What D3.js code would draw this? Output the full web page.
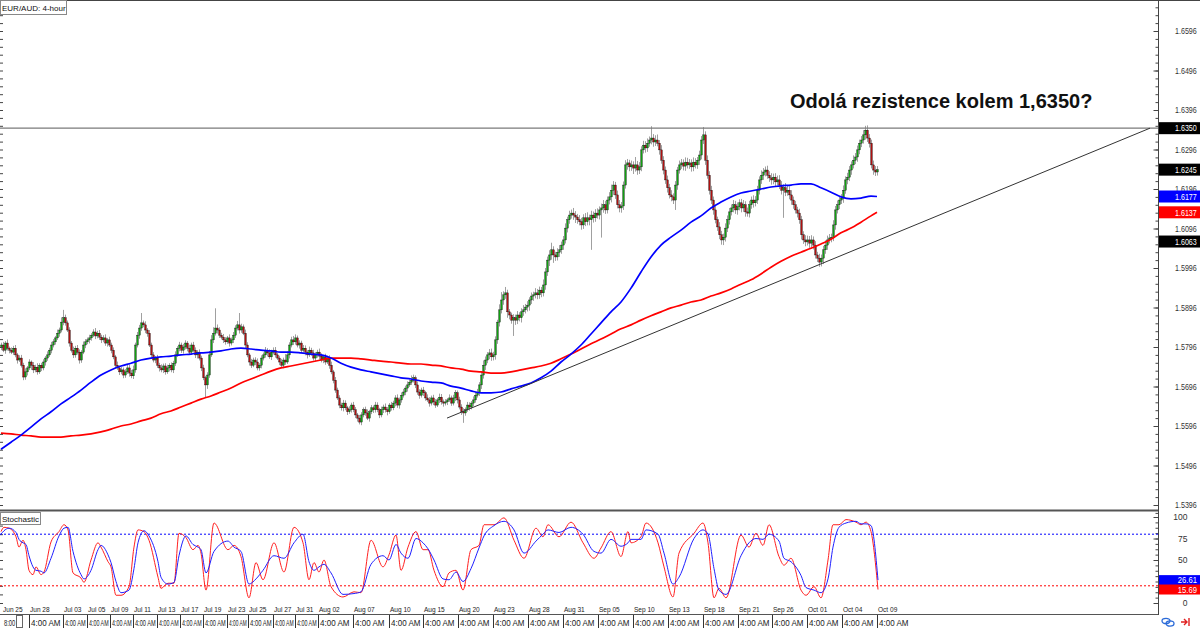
<!DOCTYPE html>
<html><head><meta charset="utf-8">
<script src="https://cdn.jsdelivr.net/npm/d3@7"></script>
<style>body{margin:0;background:#fff}svg{display:block}text{font-family:"Liberation Sans",Arial,sans-serif}</style>
</head><body><svg id="c" width="1200" height="628"></svg>
<script>
// ---- DATA (4-hour EUR/AUD candles) ----
const firstOpen = 1.5795;
const closes = [
1.5801,1.5788,1.5806,1.5793,1.5788,1.5783,1.5793,1.5776,1.5763,1.5768,
1.5750,1.5720,1.5733,1.5743,1.5758,1.5750,1.5738,1.5745,1.5733,1.5750,
1.5743,1.5758,1.5768,1.5776,1.5788,1.5801,1.5809,1.5819,1.5831,1.5839,
1.5859,1.5870,1.5857,1.5839,1.5806,1.5788,1.5776,1.5793,1.5783,1.5763,
1.5783,1.5801,1.5809,1.5814,1.5819,1.5826,1.5834,1.5824,1.5831,1.5821,
1.5814,1.5819,1.5806,1.5814,1.5801,1.5788,1.5771,1.5750,1.5743,1.5733,
1.5738,1.5725,1.5733,1.5743,1.5730,1.5723,1.5738,1.5801,1.5826,1.5844,
1.5857,1.5852,1.5839,1.5831,1.5801,1.5776,1.5763,1.5768,1.5750,1.5743,
1.5738,1.5748,1.5733,1.5743,1.5750,1.5738,1.5755,1.5776,1.5793,1.5801,
1.5788,1.5796,1.5806,1.5793,1.5783,1.5801,1.5788,1.5776,1.5783,1.5768,
1.5743,1.5718,1.5700,1.5725,1.5776,1.5814,1.5831,1.5844,1.5839,1.5826,
1.5821,1.5814,1.5809,1.5819,1.5806,1.5814,1.5826,1.5844,1.5852,1.5839,
1.5847,1.5831,1.5801,1.5776,1.5758,1.5750,1.5763,1.5758,1.5743,1.5750,
1.5768,1.5776,1.5788,1.5781,1.5771,1.5783,1.5788,1.5776,1.5768,1.5758,
1.5750,1.5763,1.5758,1.5776,1.5801,1.5814,1.5809,1.5819,1.5801,1.5806,
1.5788,1.5793,1.5783,1.5776,1.5788,1.5781,1.5768,1.5776,1.5783,1.5773,
1.5763,1.5771,1.5758,1.5768,1.5750,1.5733,1.5712,1.5687,1.5667,1.5649,
1.5642,1.5654,1.5642,1.5632,1.5637,1.5649,1.5637,1.5624,1.5616,1.5606,
1.5624,1.5637,1.5629,1.5616,1.5632,1.5642,1.5637,1.5649,1.5637,1.5624,
1.5637,1.5644,1.5637,1.5632,1.5649,1.5642,1.5654,1.5667,1.5649,1.5662,
1.5674,1.5682,1.5692,1.5700,1.5707,1.5712,1.5718,1.5700,1.5682,1.5674,
1.5687,1.5680,1.5667,1.5662,1.5654,1.5667,1.5657,1.5649,1.5662,1.5669,
1.5657,1.5654,1.5657,1.5662,1.5667,1.5654,1.5667,1.5680,1.5662,1.5644,
1.5632,1.5629,1.5637,1.5649,1.5644,1.5654,1.5662,1.5674,1.5680,1.5700,
1.5725,1.5750,1.5763,1.5776,1.5781,1.5771,1.5776,1.5814,1.5859,1.5890,
1.5915,1.5928,1.5933,1.5885,1.5877,1.5864,1.5870,1.5864,1.5877,1.5870,
1.5885,1.5890,1.5897,1.5902,1.5915,1.5925,1.5928,1.5933,1.5928,1.5940,
1.5933,1.5953,1.5986,1.6016,1.6029,1.6042,1.6029,1.6024,1.6036,1.6042,
1.6054,1.6067,1.6097,1.6118,1.6130,1.6135,1.6130,1.6125,1.6118,1.6113,
1.6105,1.6123,1.6113,1.6123,1.6118,1.6130,1.6123,1.6135,1.6130,1.6143,
1.6148,1.6156,1.6143,1.6168,1.6176,1.6193,1.6206,1.6181,1.6156,1.6148,
1.6153,1.6206,1.6257,1.6262,1.6252,1.6257,1.6249,1.6257,1.6244,1.6252,
1.6295,1.6307,1.6300,1.6312,1.6320,1.6325,1.6315,1.6320,1.6312,1.6295,
1.6269,1.6244,1.6219,1.6199,1.6181,1.6176,1.6168,1.6206,1.6244,1.6257,
1.6262,1.6254,1.6264,1.6257,1.6262,1.6252,1.6264,1.6257,1.6269,1.6282,
1.6320,1.6333,1.6269,1.6231,1.6193,1.6168,1.6143,1.6118,1.6100,1.6080,
1.6067,1.6074,1.6097,1.6118,1.6138,1.6148,1.6156,1.6143,1.6151,1.6161,
1.6148,1.6156,1.6138,1.6135,1.6156,1.6168,1.6161,1.6168,1.6193,1.6219,
1.6231,1.6239,1.6244,1.6231,1.6224,1.6219,1.6226,1.6214,1.6219,1.6206,
1.6193,1.6199,1.6188,1.6193,1.6181,1.6168,1.6156,1.6143,1.6135,1.6118,
1.6080,1.6067,1.6062,1.6067,1.6059,1.6067,1.6054,1.6029,1.6021,1.6011,
1.6021,1.6042,1.6054,1.6067,1.6072,1.6074,1.6105,1.6143,1.6156,1.6168,
1.6173,1.6193,1.6219,1.6226,1.6244,1.6257,1.6269,1.6277,1.6295,1.6312,
1.6320,1.6333,1.6345,1.6325,1.6312,1.6257,1.6244,1.6239,1.6245];
// wick lengths above / below the body, in pips
const upWick = [
6,8,5,9,4,7,6,8,5,7, 8,6,9,5,7,4,8,6,10,5, 6,7,5,9,6,8,7,5,9,6, 12,20,8,6,7,5,9,6,8,7,
5,9,7,6,8,5,7,10,6,8, 6,7,9,5,8,6,7,5,9,6, 8,6,7,10,9,8,11,6,8,8, 25,6,9,5,8,6,7,5,8,6,
9,6,7,8,5,7,6,9,5,8, 6,8,7,5,9,6,8,7,5,7, 6,8,5,7,10,12,15,50,9,7, 6,8,7,5,9,6,8,7,10,30,
8,6,9,7,5,8,6,7,9,5, 7,6,8,5,9,6,7,8,5,6, 8,6,15,9,7,8,10,9,6,7, 6,8,7,5,9,6,8,7,6,9,
7,5,8,6,7,9,5,8,6,7, 6,8,7,5,9,6,8,7,5,8, 7,6,8,9,5,7,6,8,7,5, 8,6,9,7,5,8,6,7,9,6,
7,8,6,9,7,12,8,6,9,7, 6,8,5,9,7,6,8,7,5,9, 8,6,7,5,9,6,8,7,6,8, 7,9,6,8,7,5,9,8,10,7,
8,12,9,7,10,11,8,9,6,14, 20,9,15,8,7,6,9,8,10,7, 9,12,8,10,7,9,8,12,10,9, 8,14,10,9,12,18,9,8,10,12,
9,10,12,8,11,9,13,10,8,12, 10,9,12,14,8,11,9,10,12,9, 11,12,10,9,12,14,10,8,11,12, 10,9,12,10,8,11,9,20,10,12,
9,11,10,12,9,30,10,12,14,8, 12,10,9,11,10,12,9,10,8,11, 10,9,12,11,10,9,12,10,8,11, 10,20,9,12,10,11,9,10,8,12,
10,9,12,11,10,9,12,10,11,9, 10,12,9,11,10,9,12,10,11,9, 12,10,9,11,10,12,9,10,11,12, 10,9,12,11,10,12,9,10,8,11,
10,9,12,11,10,12,9,10,8,11, 9,10,12,11,10,9,12,10,11,9, 10,12,9,11,10,9,12,10,11,9, 10,12,11,12,10,9,11,10,9];
const downWick = [
7,5,9,6,8,5,7,6,9,5, 6,8,7,9,5,12,8,6,7,5, 8,6,9,7,5,8,6,7,5,9, 6,8,7,5,9,6,8,7,6,9,
7,5,8,6,9,7,5,8,6,7, 8,6,7,9,5,8,6,7,5,8, 6,8,7,5,9,6,8,7,6,9, 7,6,8,9,5,7,6,8,7,9,
6,8,7,5,9,6,8,7,5,8, 7,9,6,8,5,7,6,8,9,6, 8,6,33,10,7,5,8,6,9,7, 6,8,7,5,9,6,8,7,6,9,
7,5,8,6,9,7,5,8,6,7, 8,6,7,9,5,8,6,7,5,8, 6,8,7,5,9,6,8,7,6,9, 7,6,8,9,5,7,6,8,7,9,
6,8,7,5,9,6,8,7,5,8, 7,9,6,8,5,7,6,8,9,6, 8,6,7,5,9,6,8,7,6,8, 6,8,7,9,5,7,6,8,7,9,
7,6,8,9,5,7,6,8,7,9, 6,8,7,5,9,6,8,7,5,8, 7,9,6,8,5,7,6,8,9,6, 8,25,7,5,9,6,8,7,6,8,
10,9,12,8,11,10,9,12,10,11, 9,12,10,15,11,9,40,12,10,9, 12,10,9,11,14,10,12,9,11,10, 11,9,12,10,15,12,20,10,9,12,
10,12,9,11,10,9,12,15,10,9, 12,10,11,9,14,76,12,10,9,11, 70,12,10,9,11,14,12,10,9,11, 12,10,9,12,11,10,15,9,12,10,
11,9,12,10,9,11,12,10,8,12, 9,11,10,12,9,11,10,25,12,9, 10,11,12,9,10,12,11,9,10,12, 11,10,12,9,11,10,12,9,10,11,
12,13,11,10,12,9,11,10,12,9, 11,10,12,9,11,10,12,9,10,11, 10,12,11,9,10,12,11,11,9,10, 11,70,10,9,11,12,10,9,11,10,
12,10,11,9,12,10,11,9,10,12, 11,15,10,12,9,11,10,12,9,11, 10,12,9,11,10,12,9,10,12,11, 10,9,12,10,11,9,12,10,9];
// moving averages, one value every 5 bars (plus the last bar)
const maBlue = [1.5537,1.5555,1.5573,1.5593,1.5614,1.5632,1.5652,1.5669,1.5687,1.5707,
1.5725,1.5738,1.5748,1.5755,1.5763,1.5768,1.5771,1.5773,1.5776,1.5778,
1.5781,1.5783,1.5786,1.5791,1.5793,1.5791,1.5788,1.5786,1.5783,1.5783,
1.5781,1.5778,1.5776,1.5768,1.5755,1.5745,1.5738,1.5733,1.5728,1.5723,
1.5718,1.5715,1.5710,1.5707,1.5705,1.5697,1.5692,1.5685,1.5680,1.5680,
1.5682,1.5690,1.5697,1.5705,1.5718,1.5735,1.5758,1.5778,1.5801,1.5829,
1.5857,1.5885,1.5910,1.5945,1.5986,1.6024,1.6054,1.6074,1.6092,1.6112,
1.6128,1.6148,1.6163,1.6176,1.6186,1.6191,1.6196,1.6201,1.6204,1.6206,
1.6209,1.6209,1.6199,1.6188,1.6176,1.6171,1.6173,1.6178,1.6177];
const maRed = [1.5578,1.5576,1.5573,1.5571,1.5568,1.5568,1.5568,1.5571,1.5573,1.5576,
1.5581,1.5588,1.5596,1.5601,1.5609,1.5616,1.5627,1.5634,1.5644,1.5654,
1.5664,1.5672,1.5682,1.5692,1.5705,1.5715,1.5725,1.5735,1.5743,1.5748,
1.5753,1.5758,1.5763,1.5768,1.5768,1.5768,1.5766,1.5763,1.5760,1.5758,
1.5755,1.5753,1.5753,1.5750,1.5748,1.5743,1.5740,1.5735,1.5733,1.5730,
1.5730,1.5733,1.5738,1.5743,1.5748,1.5755,1.5766,1.5778,1.5791,1.5804,
1.5816,1.5829,1.5842,1.5852,1.5864,1.5875,1.5885,1.5895,1.5902,1.5910,
1.5915,1.5925,1.5933,1.5943,1.5955,1.5966,1.5981,1.5998,1.6013,1.6026,
1.6036,1.6046,1.6057,1.6069,1.6085,1.6097,1.6112,1.6128,1.6137];
// stochastic (bar index, %K main = red, %D signal = blue)
const stochBars = [0,1.5,4,7.5,9,11,12.5,14,16,17.5,20,21.5,25,29,31.5,33.5,36,40,41.5,45,
48.5,50,53.5,55,57.5,60,64,66.5,68.5,71.5,74,78.5,80,83.5,86.5,89,92.5,96,98.5,100,
102.5,106.5,113.5,116.5,120,124,127.5,131,136.5,141.5,146.5,151,154,156.5,159,161.5,165,171,176.5,180,
185,191,194,197.5,200,203.5,207.5,211,213.5,216.5,221,224,227.5,231,235,239,241.5,246.5,251.5,256.5,
261.5,267.5,271,273.5,279,285,291,296.5,300,305,310,313.5,315,320,322.5,328.5,331.5,336,339,346.5,
351,353.5,356.5,359,362.5,370,374,377.5,381,384,389,391.5,395,400,402.5,406.5,410,413.5,416,419,
422.5,427.5,430,432.5,435,438.5];
const stochK = [83,88,87,77,65,73,62,38,33,42,33,36,71,83,91,85,35,29,24,50,
70,65,48,42,9,9,19,65,85,83,73,30,17,23,23,81,76,62,67,58,
15,93,62,67,54,6,47,27,70,36,88,70,27,47,36,50,19,7,13,12,
73,42,56,79,38,65,83,62,62,38,19,35,38,15,62,67,91,91,99,73,
52,87,77,91,77,94,70,52,64,83,54,83,70,77,93,70,42,7,58,81,
93,70,6,17,6,79,65,81,67,91,54,44,52,15,9,19,6,50,91,91,
97,94,91,94,83,15.69];
const stochD = [80,84,87,82,74,70,68,55,42,38,37,35,52,78,87,88,60,33,28,38,
62,67,56,47,25,12,15,40,70,84,78,48,30,22,24,55,78,68,65,62,
35,60,72,65,60,22,28,38,55,52,70,80,48,38,42,45,35,10,11,13,
45,55,50,68,58,52,75,70,63,50,28,27,36,25,40,64,78,90,95,85,
58,72,80,85,82,88,80,60,58,74,66,70,74,74,85,80,58,22,30,75,
85,80,40,15,10,55,70,75,74,80,72,52,48,32,18,15,12,28,65,88,
93,95,92,92,90,26.61];
const priceLabels = [1.5396,1.5496,1.5596,1.5696,1.5796,1.5896,1.5996,1.6096,1.6196,1.6296,1.6396,1.6496,1.6596];
const stochLabels = [0,50,75,100];
const stochLevels = {upper:80, lower:20};
const resistance = 1.6350;
const trendStart = {bar:223, price:1.5616};
const trendEnd = {bar:574.5, price:1.6350};
const lastValues = [
  {v:1.6350, c:"#000"}, {v:1.6245, c:"#000"}, {v:1.6177, c:"#0000ff"},
  {v:1.6137, c:"#ff0000"}, {v:1.6063, c:"#000"}];
const stochLast = [{v:26.61, c:"#0000ff"}, {v:15.69, c:"#ff0000"}];
const dateLabels = ["Jun 25","Jun 28","Jul 03","Jul 05","Jul 09","Jul 11","Jul 13","Jul 17","Jul 19","Jul 23",
"Jul 25","Jul 27","Jul 31","Aug 02","Aug 07","Aug 10","Aug 15","Aug 20","Aug 23","Aug 28",
"Aug 31","Sep 05","Sep 10","Sep 13","Sep 18","Sep 21","Sep 26","Oct 01","Oct 04","Oct 09"];
const dateBars = [0.5,14,31,43,54.5,66,78,89.5,101,113,123.5,136,147,158.5,176,194,211,228.5,246,263.5,
281,298.5,316,333.5,351,368.5,385.5,403,420.5,438];
const timeLabels = ["8:00"].concat(d3.range(29).map(()=>"4:00 AM"));
const title = "EUR/AUD: 4-hour";
const note = "Odolá rezistence kolem 1,6350?";

// ---- DRAW ----
const svg = d3.select("#c");
const AX = 1158.5;
const x = d3.scaleLinear().domain([0, 438]).range([1, 877]);
const y = d3.scaleLinear().domain([1.5396, 1.6596]).range([505, 31]);
const ys = d3.scaleLinear().domain([0, 100]).range([603, 517]);

const main = svg.append("g");
main.append("defs").append("clipPath").attr("id","cp").append("rect").attr("x",0).attr("y",0).attr("width",AX).attr("height",510);

// frame lines
svg.append("line").attr("x1",0).attr("x2",1200).attr("y1",0.5).attr("y2",0.5).attr("stroke","#444");
svg.append("line").attr("x1",0).attr("x2",AX).attr("y1",510.5).attr("y2",510.5).attr("stroke","#555").attr("stroke-width",2);
svg.append("line").attr("x1",0).attr("x2",AX).attr("y1",614.5).attr("y2",614.5).attr("stroke","#555");
svg.append("line").attr("x1",AX).attr("x2",AX).attr("y1",0).attr("y2",615).attr("stroke","#444");

// horizontally squeezed text (narrow UI font look)
const squeezed = (parent, tx, ty, str, size, sx, fill, anchor) =>
  parent.append("text").attr("transform",`translate(${tx},${ty}) scale(${sx},1)`)
    .attr("font-size",size).attr("fill",fill).attr("text-anchor",anchor||"start").text(str);

// right price axis
const minor = d3.range(1.5376, 1.6676, 0.002);
svg.append("g").attr("transform",`translate(${AX},0)`)
  .call(d3.axisRight(y).tickValues(minor).tickSize(-3).tickFormat(""))
  .call(g=>{g.select(".domain").remove(); g.selectAll("line").attr("stroke","#444");});
svg.append("g").attr("transform",`translate(${AX},0)`)
  .call(d3.axisRight(y).tickValues(priceLabels).tickSize(-5).tickFormat(""))
  .call(g=>{g.select(".domain").remove(); g.selectAll("line").attr("stroke","#444");});
const pl = svg.append("g");
priceLabels.forEach(v=> squeezed(pl, 1175, y(v)+3, v.toFixed(4), 8.5, 0.84, "#333"));
// left edge ticks
svg.append("g")
  .call(d3.axisRight(y).tickValues(minor).tickSize(3).tickFormat(""))
  .call(g=>{g.select(".domain").remove(); g.selectAll("line").attr("stroke","#444");});
svg.append("g")
  .call(d3.axisRight(ys).tickValues(d3.range(0,101,10)).tickSize(3).tickFormat(""))
  .call(g=>{g.select(".domain").remove(); g.selectAll("line").attr("stroke","#444");});

// stochastic axis
svg.append("g").attr("transform",`translate(${AX},0)`)
  .call(d3.axisRight(ys).tickValues(d3.range(0,101,6.25)).tickSize(-3).tickFormat(""))
  .call(g=>{g.select(".domain").remove(); g.selectAll("line").attr("stroke","#444");});
svg.append("g").attr("transform",`translate(${AX},0)`)
  .call(d3.axisRight(ys).tickValues(stochLabels).tickSize(-5).tickPadding(29).tickFormat(d3.format("d")))
  .call(g=>{g.select(".domain").remove(); g.selectAll("line").attr("stroke","#444");
    g.selectAll("text").attr("font-size",8.5).attr("fill","#333").attr("text-anchor","end");});

// candles
const candles = closes.map((c,i)=>{
  const o = i ? closes[i-1] : firstOpen;
  return {i, o, c, h: Math.max(o,c) + (upWick[i]||8)/1e4, l: Math.min(o,c) - (downWick[i]||8)/1e4};
});
const cg = main.append("g").attr("clip-path","url(#cp)");
cg.selectAll("line.w").data(candles).join("line").attr("class","w")
  .attr("x1",d=>x(d.i)+0.5).attr("x2",d=>x(d.i)+0.5)
  .attr("y1",d=>y(d.h)).attr("y2",d=>y(d.l))
  .attr("stroke","#a0a0a0").attr("stroke-width",1);
cg.selectAll("rect.b").data(candles).join("rect").attr("class","b")
  .attr("x",d=>x(d.i)-0.3).attr("width",1.6)
  .attr("y",d=>y(Math.max(d.o,d.c))).attr("height",d=>Math.max(1,Math.abs(y(d.o)-y(d.c))))
  .attr("fill",d=>d.c>=d.o?"#10a010":"#b01010")
  .attr("stroke","#000").attr("stroke-width",0.35);

// moving averages
const maIndex = d3.range(0,436,5).concat([438]);
const maLine = d3.line().x((d,k)=>x(maIndex[k])).y(d=>y(d)).curve(d3.curveMonotoneX);
cg.append("path").attr("d",maLine(maRed)).attr("fill","none").attr("stroke","#ff0000").attr("stroke-width",1.7);
cg.append("path").attr("d",maLine(maBlue)).attr("fill","none").attr("stroke","#0000ff").attr("stroke-width",1.7);

// resistance + trendline
cg.append("line").attr("x1",0).attr("x2",AX).attr("y1",y(resistance)).attr("y2",y(resistance))
  .attr("stroke","#7a7a7a").attr("stroke-width",1.3);
cg.append("line").attr("x1",x(trendStart.bar)).attr("y1",y(trendStart.price))
  .attr("x2",x(trendEnd.bar)).attr("y2",y(trendEnd.price)).attr("stroke","#333").attr("stroke-width",1);

// last-value boxes (price)
const lv = svg.append("g");
lastValues.forEach(b=>{
  lv.append("rect").attr("x",AX+0.5).attr("y",y(b.v)-6).attr("width",1200-AX).attr("height",12).attr("fill",b.c);
  squeezed(lv, 1175, y(b.v)+3.2, b.v.toFixed(4), 8.5, 0.84, "#fff");
});

// stochastic
svg.append("line").attr("x1",0).attr("x2",AX).attr("y1",ys(stochLevels.upper)).attr("y2",ys(stochLevels.upper))
  .attr("stroke","#0000ff").attr("stroke-dasharray","2,2");
svg.append("line").attr("x1",0).attr("x2",AX).attr("y1",ys(stochLevels.lower)).attr("y2",ys(stochLevels.lower))
  .attr("stroke","#ff0000").attr("stroke-dasharray","2,2");
const stLine = arr => d3.line().x((d,k)=>x(stochBars[k])).y(d=>ys(d)).curve(d3.curveMonotoneX)(arr);
svg.append("path").attr("d",stLine(stochK)).attr("fill","none").attr("stroke","#ff2020").attr("stroke-width",1);
svg.append("path").attr("d",stLine(stochD)).attr("fill","none").attr("stroke","#2020ff").attr("stroke-width",1);
const sl = svg.append("g");
stochLast.forEach(b=>{
  sl.append("rect").attr("x",AX+0.5).attr("y",ys(b.v)-5).attr("width",1200-AX).attr("height",10).attr("fill",b.c);
  squeezed(sl, 1197, ys(b.v)+3.2, b.v.toFixed(2), 8.5, 0.9, "#fff", "end");
});

// time axis labels
const dg = svg.append("g");
dateLabels.forEach((t,k)=> squeezed(dg, x(dateBars[k])+1, 612, t, 8, 0.82, "#222"));
const tg = svg.append("g");
timeLabels.forEach((t,k)=>{
  const xx = Math.round(x(dateBars[k]));
  const next = k < dateBars.length-1 ? Math.round(x(dateBars[k+1])) : xx + 36;
  const room = Math.min(30, next - xx - 3);
  if(k>0) tg.append("line").attr("x1",xx+0.5).attr("x2",xx+0.5).attr("y1",615).attr("y2",628).attr("stroke","#333");
  const natural = (k===0 ? 17.5 : 31.7);
  squeezed(tg, xx+2, 626, t, 8.5, Math.min(1, (k===0 ? 12 : room)/natural), "#222");
});
tg.append("rect").attr("x",16.5).attr("y",615.5).attr("width",6).attr("height",12).attr("fill","#fff").attr("stroke","#666");

// icons bottom-right
const ic = svg.append("g").attr("transform","translate(1168,622)");
ic.append("ellipse").attr("cx",-2).attr("cy",-1).attr("rx",4).attr("ry",2.6).attr("fill","none").attr("stroke","#2a6ad8").attr("stroke-width",1.3);
ic.append("ellipse").attr("cx",2).attr("cy",1.5).attr("rx",4).attr("ry",2.6).attr("fill","none").attr("stroke","#2a6ad8").attr("stroke-width",1.3);
const ic2 = svg.append("g").attr("transform","translate(1181,622)");
ic2.append("path").attr("d","M0,0H6M3,-3L6,0L3,3M8,-4V4").attr("fill","none").attr("stroke","#e02020").attr("stroke-width",1.4);

// title boxes
svg.append("rect").attr("x",0.5).attr("y",0.5).attr("width",66).attr("height",14).attr("fill","#fff").attr("stroke","#888");
svg.append("text").attr("x",2).attr("y",10.5).attr("font-size",8).attr("fill","#111").text(title);
svg.append("rect").attr("x",0.5).attr("y",512.5).attr("width",40).attr("height",12).attr("fill","#fff").attr("stroke","#888");
svg.append("text").attr("x",2).attr("y",521.5).attr("font-size",8).attr("fill","#111").text("Stochastic");

// annotation
svg.append("text").attr("x",790).attr("y",108).attr("font-size",20).attr("font-weight","bold").attr("fill","#111").text(note);
</script></body></html>
